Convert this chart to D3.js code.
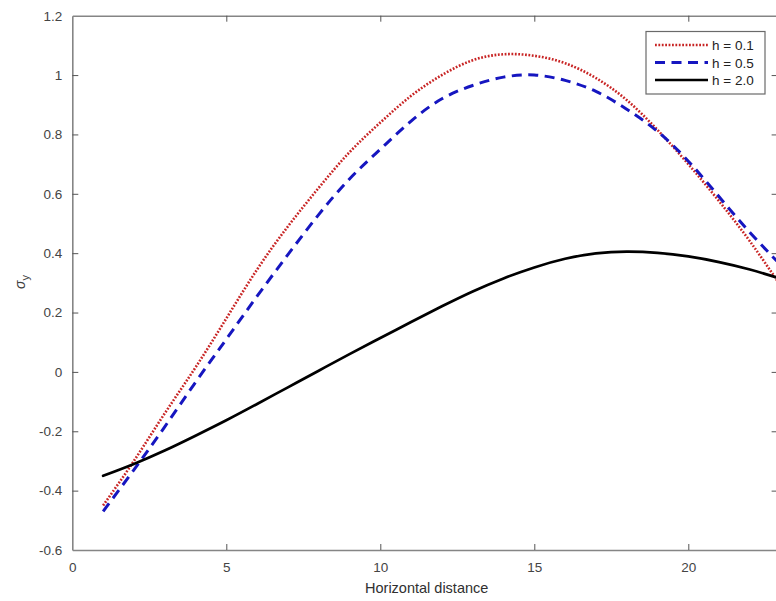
<!DOCTYPE html>
<html>
<head>
<meta charset="utf-8">
<script src="https://cdn.jsdelivr.net/npm/d3@7"></script>
<style>
  body { margin: 0; background: #fff; }
  svg { display: block; font-family: "Liberation Sans", Arial, sans-serif; }
</style>
</head>
<body>
<div id="main"></div>
<script>
// horizontal distance samples
var distance = [1, 2, 3, 4, 5, 6, 7, 8, 9, 10, 11, 12, 13, 14, 15, 16, 17, 18, 19, 20, 21, 22, 23];
// sigma_y for each h
var h01 = [-0.45, -0.30, -0.14, 0.015, 0.18, 0.345, 0.49, 0.62, 0.74, 0.84, 0.93, 1.00, 1.05, 1.07, 1.065, 1.04, 0.99, 0.916, 0.815, 0.70, 0.575, 0.44, 0.29];
var h05 = [-0.47, -0.33, -0.185, -0.035, 0.11, 0.255, 0.395, 0.53, 0.65, 0.75, 0.845, 0.92, 0.965, 0.993, 1.0, 0.982, 0.945, 0.885, 0.81, 0.71, 0.59, 0.47, 0.36];
var h20 = [-0.35, -0.31, -0.265, -0.215, -0.163, -0.108, -0.052, 0.004, 0.06, 0.114, 0.168, 0.221, 0.271, 0.315, 0.352, 0.381, 0.399, 0.405, 0.401, 0.389, 0.370, 0.345, 0.314];
var seriesNames = ["h = 0.1", "h = 0.5", "h = 2.0"];
var xTicks = [0, 5, 10, 15, 20];
var yTicks = [-0.6, -0.4, -0.2, 0, 0.2, 0.4, 0.6, 0.8, 1, 1.2];
var yTickLabels = ["-0.6", "-0.4", "-0.2", "0", "0.2", "0.4", "0.6", "0.8", "1", "1.2"];

var ctx = {
    w: 776,
    h: 601,
    left: 72.3,
    top: 15.7,
    bottom: 550,
    xMax: 22.9,
    axisColor: "#858585",
    textColor: "#444",
    tick: 6
};

var styles = [
    { color: "#c82424", width: 2.6, dash: "1.8,1.6", cap: "butt" },
    { color: "#1616c0", width: 3, dash: "10,6.5", cap: "butt" },
    { color: "#000000", width: 2.7, dash: null, cap: "round" }
];

var svg = d3.select("#main").append("svg")
    .attr("width", ctx.w)
    .attr("height", ctx.h);

var x = d3.scaleLinear().domain([0, ctx.xMax]).range([ctx.left, ctx.left + ctx.xMax * 30.8]);
var y = d3.scaleLinear().domain([-0.6, 1.2]).range([ctx.bottom, ctx.top]);
var right = x(ctx.xMax);

svg.append("clipPath").attr("id", "clip")
    .append("rect")
    .attr("x", ctx.left).attr("y", ctx.top)
    .attr("width", right - ctx.left).attr("height", ctx.bottom - ctx.top);

// axes box with inward ticks
var axB = svg.append("g").attr("transform", "translate(0," + ctx.bottom + ")")
    .call(d3.axisBottom(x).tickValues(xTicks).tickSizeInner(-ctx.tick).tickSizeOuter(0).tickPadding(12).tickFormat(d3.format("d")));
var axT = svg.append("g").attr("transform", "translate(0," + ctx.top + ")")
    .call(d3.axisTop(x).tickValues(xTicks).tickSizeInner(-ctx.tick).tickSizeOuter(0).tickFormat(""));
var axL = svg.append("g").attr("transform", "translate(" + ctx.left + ",0)")
    .call(d3.axisLeft(y).tickValues(yTicks).tickSizeInner(-ctx.tick).tickSizeOuter(0).tickPadding(10)
        .tickFormat(function (d, i) { return yTickLabels[i]; }));
var axR = svg.append("g").attr("transform", "translate(" + right + ",0)")
    .call(d3.axisRight(y).tickValues(yTicks).tickSizeInner(-ctx.tick).tickSizeOuter(0).tickFormat(""));

[axB, axT, axL, axR].forEach(function (g) {
    g.attr("font-size", null);
    g.select(".domain").attr("stroke", ctx.axisColor).attr("stroke-width", 1.6);
    g.selectAll(".tick line").attr("stroke", "#555").attr("stroke-width", 1);
    g.selectAll(".tick text").attr("fill", ctx.textColor).style("font-size", "13.5px");
});
// hide edge ticks that sit on the box
axB.selectAll(".tick line").filter(function (d) { return d === 0; }).remove();
axT.selectAll(".tick line").filter(function (d) { return d === 0; }).remove();
axL.selectAll(".tick line").filter(function (d) { return d === -0.6 || d === 1.2; }).remove();
axR.selectAll(".tick line").filter(function (d) { return d === -0.6 || d === 1.2; }).remove();

// curves
var line = d3.line()
    .x(function (d) { return x(d[0]); })
    .y(function (d) { return y(d[1]); })
    .curve(d3.curveNatural);

var allSeries = [h01, h05, h20];
var plot = svg.append("g").attr("clip-path", "url(#clip)");
allSeries.forEach(function (vals, i) {
    var pts = distance.map(function (d, j) { return [d, vals[j]]; });
    plot.append("path")
        .datum(pts)
        .attr("d", line)
        .attr("fill", "none")
        .attr("stroke", styles[i].color)
        .attr("stroke-width", styles[i].width)
        .attr("stroke-linecap", styles[i].cap)
        .attr("stroke-dasharray", styles[i].dash);
});

// legend
var lg = svg.append("g").attr("transform", "translate(646,31.5)");
lg.append("rect")
    .attr("width", 119).attr("height", 62.5)
    .attr("fill", "#fff").attr("stroke", "#6a6a6a").attr("stroke-width", 1.2);
seriesNames.forEach(function (name, i) {
    var yy = 13.5 + i * 17.5;
    lg.append("line")
        .attr("x1", 9).attr("x2", 62).attr("y1", yy).attr("y2", yy)
        .attr("stroke", styles[i].color)
        .attr("stroke-width", styles[i].width)
        .attr("stroke-dasharray", styles[i].dash);
    lg.append("text")
        .attr("x", 66).attr("y", yy + 5)
        .attr("fill", "#222")
        .style("font-size", "13.5px")
        .text(name);
});

// axis labels
svg.append("text")
    .attr("x", 426.7).attr("y", 593)
    .attr("text-anchor", "middle")
    .attr("fill", "#303030")
    .style("font-size", "14.5px")
    .text("Horizontal distance");

var yl = svg.append("text")
    .attr("transform", "translate(25,282) rotate(-90)")
    .attr("text-anchor", "middle")
    .attr("fill", "#404040")
    .style("font-size", "14px");
yl.append("tspan").style("font-style", "italic").text("σ");
yl.append("tspan").attr("dy", 4).style("font-size", "11px").text("y");
</script>
</body>
</html>
